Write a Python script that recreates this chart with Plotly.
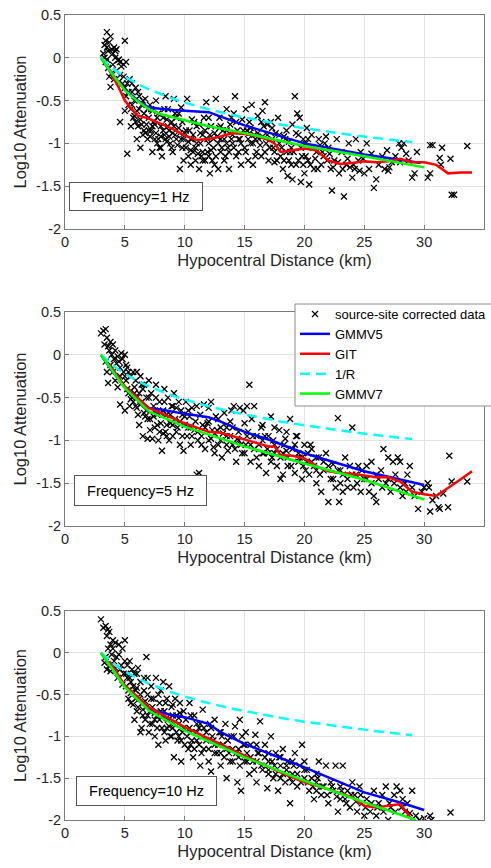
import plotly.graph_objects as go

# ---------------- data ----------------
dist_ticks = [0, 5, 10, 15, 20, 25, 30, 35]
att_ticks = [-2, -1.5, -1, -0.5, 0, 0.5]
att_ticktext = ["-2", "-1.5", "-1", "-0.5", "0", "0.5"]
freq_labels = ["Frequency=1 Hz", "Frequency=5 Hz", "Frequency=10 Hz"]

data_1hz = [
    (3.2,0.05),(3.3,0.15),(3.4,0.2),(3.5,0.12),(3.5,0.3),(3.6,0.08),(3.7,0.18),(3.8,0.25),(3.9,0.1),(4.0,0.05),
    (4.1,0.12),(4.2,0.0),(4.3,0.1),(4.4,-0.03),(4.5,-0.02),(4.6,-0.05),(4.7,-0.1),(4.9,-0.08),(5.0,0.2),(5.1,-0.05),
    (3.4,-0.05),(3.6,-0.12),(3.7,-0.22),(3.8,-0.34),(3.9,-0.18),(4.1,-0.25),(4.3,-0.15),(4.5,-0.28),(4.6,-0.2),(4.8,-0.3),
    (4.9,-0.22),(3.3,0.0),(3.5,-0.02),(4.0,-0.08),(4.2,0.08),
    (5.0,-0.35),(5.1,-0.45),(5.2,-0.3),(5.3,-0.55),(5.4,-0.25),(5.5,-0.6),(5.6,-0.4),(5.7,-0.7),(5.8,-0.5),(5.9,-0.35),
    (6.0,-0.62),(6.1,-0.8),(6.2,-0.45),(6.3,-0.72),(6.4,-0.55),(6.5,-0.9),(6.6,-0.65),(6.7,-0.48),(6.8,-0.78),(6.9,-0.6),
    (5.2,-1.12),(4.6,-0.75),(5.0,-0.62),(5.5,-0.8),(6.0,-0.95),(6.3,-1.05),(6.6,-0.85),(6.9,-0.95),(7.0,-0.7),(5.8,-0.68),
    (7.1,-0.55),(7.2,-0.85),(7.3,-1.1),(7.4,-0.75),(7.5,-0.95),(7.6,-0.5),(7.7,-1.0),(7.8,-0.65),(7.9,-1.05),(8.0,-0.8),
    (8.1,-1.15),(8.2,-0.7),(8.3,-0.9),(8.4,-0.45),(8.5,-0.98),(8.6,-0.6),(8.7,-0.85),(8.8,-1.0),(8.9,-0.75),(9.0,-1.1),
    (9.1,-0.48),(9.2,-0.9),(9.3,-0.7),(9.4,-1.02),(9.5,-0.82),(9.6,-1.3),(9.7,-0.95),(9.8,-0.75),(9.9,-1.2),(10.0,-0.88),
    (7.5,-0.78),(8.0,-0.92),(8.5,-0.72),(9.0,-0.88),(9.5,-0.65),(7.3,-0.62),(8.6,-0.8),(9.8,-1.05),
    (10.1,-1.05),(10.2,-0.48),(10.3,-1.15),(10.4,-0.85),(10.5,-1.25),(10.6,-0.95),(10.7,-1.1),(10.8,-0.75),(10.9,-1.2),(11.0,-1.0),
    (11.2,-1.3),(11.3,-0.88),(11.5,-1.1),(11.6,-0.7),(11.7,-1.2),(11.8,-0.52),(11.9,-0.95),(12.0,-1.15),(12.1,-1.35),(12.2,-0.8),
    (12.4,-1.05),(12.5,-1.25),(12.6,-0.48),(12.7,-0.92),(12.8,-1.3),(12.9,-0.7),(13.0,-1.1),(13.2,-0.85),(13.3,-1.2),(13.5,-0.6),
    (13.6,-1.05),(13.7,-1.3),(13.8,-0.78),(14.0,-1.0),(14.1,-0.65),(14.2,-0.45),(14.3,-1.15),(14.4,-0.85),(14.6,-0.95),(14.7,-1.25),
    (14.8,-0.72),(15.0,-1.05),(10.5,-0.95),(11.0,-0.8),(11.5,-0.9),(12.0,-1.0),(12.5,-0.88),(13.0,-0.95),(13.5,-1.0),(14.0,-0.9),
    (14.5,-1.1),(11.4,-1.15),(12.3,-1.2),(13.4,-1.15),
    (15.1,-0.6),(15.2,-0.85),(15.3,-1.2),(15.4,-0.75),(15.5,-1.0),(15.6,-0.55),(15.7,-1.25),(15.8,-0.9),(16.0,-1.1),(16.1,-0.68),
    (16.2,-0.95),(16.4,-1.15),(16.5,-0.62),(16.6,-0.8),(16.7,-0.52),(16.8,-1.0),(17.0,-1.2),(17.1,-1.43),(17.2,-0.75),(17.4,-1.05),
    (17.6,-0.88),(17.8,-0.7),(18.0,-1.15),(18.2,-1.3),(18.4,-0.95),(18.6,-1.38),(18.7,-1.2),(18.9,-1.05),(19.0,-1.42),(19.2,-0.45),
    (19.3,-1.25),(19.4,-0.65),(19.5,-0.9),(19.6,-0.7),(19.7,-1.45),(19.8,-1.15),(19.9,-0.95),(20.0,-1.35),(15.9,-0.95),(16.9,-0.9),
    (17.9,-1.0),(18.8,-1.1),(17.5,-1.22),(18.5,-0.85),
    (20.1,-1.0),(20.2,-0.82),(20.3,-1.2),(20.4,-1.48),(20.6,-0.9),(20.8,-1.3),(21.0,-1.1),(21.2,-0.95),(21.4,-1.25),(21.6,-1.15),
    (21.8,-0.92),(22.0,-1.05),(22.2,-1.3),(22.3,-1.55),(22.5,-1.2),(22.7,-0.95),(22.9,-1.35),(23.1,-1.1),(23.3,-1.62),(23.5,-1.25),
    (23.7,-1.0),(24.0,-1.4),(24.2,-1.3),(24.3,-0.95),(24.5,-1.2),(24.7,-1.1),(25.0,-1.35),(21.3,-1.02),(23.8,-1.28),(20.9,-1.18),
    (25.2,-1.0),(25.4,-1.3),(25.6,-1.12),(25.8,-1.52),(26.0,-1.42),(26.2,-1.25),(26.5,-1.15),(26.7,-1.3),(26.9,-1.08),(27.1,-1.28),
    (27.3,-1.22),(27.6,-1.15),(27.9,-1.0),(28.1,-1.05),(28.3,-1.0),(28.5,-1.12),(28.7,-1.2),(29.0,-1.4),(29.2,-1.35),(29.4,-1.1),
    (27.0,-1.32),(28.0,-1.22),
    (30.3,-1.4),(30.5,-1.02),(30.7,-1.02),(30.5,-1.35),(31.3,-1.17),(31.5,-1.05),(31.4,-1.25),(32.2,-1.18),(32.3,-1.6),(32.5,-1.6),
    (33.6,-1.03),
    (5.3,-0.4),(5.6,-0.55),(5.9,-0.75),(6.2,-0.6),(6.4,-0.78),(6.7,-0.88),(7.0,-0.85),(7.1,-0.92),(7.3,-0.8),(7.6,-0.88),
    (7.8,-0.95),(8.0,-1.05),(8.2,-0.85),(8.4,-0.95),(8.7,-0.92),(8.9,-1.05),(9.1,-0.8),(9.3,-0.95),(9.6,-0.88),(9.9,-0.95),
    (10.1,-0.85),(10.3,-0.98),(10.5,-1.08),(10.7,-0.9),(10.9,-1.05),(11.1,-1.12),(11.3,-1.0),(11.5,-1.2),(11.7,-0.85),(11.9,-1.1),
    (12.1,-0.9),(12.2,-1.08),(12.4,-0.95),(12.6,-1.15),(12.8,-1.0),(13.0,-0.8),(13.1,-1.05),(13.3,-0.95),(13.5,-0.85),(13.7,-1.1),
    (13.9,-0.95),(14.1,-1.05),(14.3,-0.75),(14.5,-0.95),(14.7,-1.0),(14.9,-0.85),(15.1,-1.1),(15.3,-0.95),(15.5,-0.82),(15.7,-1.0),
    (15.9,-1.15),(16.1,-0.88),(16.3,-1.02),(16.5,-0.92),(16.7,-1.1),(16.9,-0.78),(17.1,-1.05),(17.3,-0.95),(17.5,-1.1),(17.7,-1.2),
    (17.9,-0.9),(18.1,-1.05),(18.3,-1.2),(18.5,-1.1),(18.7,-0.98),(18.9,-1.25),(19.1,-1.1),(19.3,-0.88),(19.5,-1.2),(19.7,-1.05),
    (19.9,-1.25),(20.1,-1.15),(20.5,-1.25),(20.7,-1.05),(21.1,-1.3),(21.5,-1.1),(21.9,-1.2),(22.1,-1.12),(22.4,-1.28),(22.8,-1.22),
    (23.2,-1.3),(23.6,-1.18),(24.1,-1.25),(24.6,-1.32),(24.9,-1.18),(5.6,-0.3),(6.1,-0.4),(6.5,-0.5),(7.2,-0.6),(7.7,-0.7),
    (8.3,-0.6),(9.2,-0.65),(9.7,-0.58),(10.6,-0.72),(11.2,-0.78),(12.0,-0.7),(12.9,-0.82),(13.9,-0.7),(15.4,-0.88),(16.4,-0.75),
    (17.3,-0.82),(18.3,-0.92),(19.0,-0.78),(20.3,-0.95),(21.7,-1.0),
]

data_5hz = [
    (3.0,0.25),(3.2,0.28),(3.4,0.3),(3.5,0.2),(3.3,0.12),(3.6,0.1),(3.7,0.05),(3.8,0.15),(3.9,0.0),(4.0,0.12),
    (4.1,-0.05),(4.2,0.05),(4.3,-0.1),(4.4,-0.02),(4.5,-0.08),(4.6,-0.15),(4.7,0.02),(4.8,-0.05),(4.9,-0.2),(5.0,0.0),
    (5.1,-0.12),(3.5,-0.2),(3.6,-0.33),(3.8,-0.12),(4.2,-0.3),(4.4,-0.38),(3.4,-0.08),(4.0,-0.2),(4.6,-0.25),(5.0,-0.25),
    (5.1,-0.3),(5.2,-0.15),(5.3,-0.45),(5.4,-0.6),(5.5,-0.25),(5.6,-0.5),(5.7,-0.2),(5.8,-0.38),(5.9,-0.6),(6.0,-0.2),
    (6.1,-0.7),(6.2,-0.45),(6.3,-0.25),(6.4,-0.55),(6.5,-0.95),(6.6,-0.35),(6.7,-0.72),(6.8,-0.5),(6.9,-0.98),(7.0,-0.3),
    (4.6,-0.58),(5.0,-0.65),(5.7,-0.55),(6.2,-0.82),(6.5,-0.4),(6.8,-0.65),(5.5,-0.42),(6.0,-0.5),
    (7.1,-0.75),(7.2,-0.45),(7.3,-0.98),(7.4,-0.6),(7.5,-0.85),(7.6,-0.35),(7.7,-0.7),(7.8,-1.0),(7.9,-0.55),(8.0,-0.8),
    (8.1,-1.12),(8.2,-0.65),(8.3,-0.4),(8.4,-0.9),(8.5,-0.7),(8.6,-0.5),(8.7,-1.0),(8.8,-0.8),(8.9,-0.6),(9.0,-0.95),
    (9.1,-0.45),(9.2,-0.75),(9.4,-0.85),(9.5,-0.55),(9.6,-1.05),(9.8,-0.7),(9.9,-1.12),(10.0,-0.82),(7.5,-0.65),(8.5,-0.82),
    (9.3,-0.62),(7.9,-0.9),
    (10.1,-0.55),(10.2,-0.95),(10.4,-0.72),(10.5,-1.05),(10.6,-0.62),(10.8,-0.88),(11.0,-1.4),(11.1,-1.0),(11.2,-1.38),(11.3,-0.7),
    (11.4,-0.95),(11.6,-0.58),(11.7,-1.1),(11.9,-0.8),(12.0,-1.0),(12.2,-0.55),(12.3,-0.88),(12.5,-1.15),(12.6,-0.72),(12.8,-1.05),
    (13.0,-0.85),(13.1,-1.2),(13.3,-0.68),(13.5,-0.95),(13.6,-1.12),(13.8,-0.78),(14.0,-1.05),(14.1,-0.6),(14.3,-1.25),(14.5,-0.9),
    (14.6,-0.62),(14.8,-1.15),(15.0,-0.8),(10.5,-0.85),(11.5,-0.82),(12.5,-0.92),(13.5,-0.85),(14.5,-1.0),(15.2,-0.6),(15.4,-0.35),
    (15.1,-1.05),(15.3,-0.9),(15.5,-1.25),(15.6,-0.75),(15.8,-1.1),(16.0,-0.95),(16.2,-1.3),(16.4,-0.85),(16.6,-1.15),(16.8,-1.38),
    (17.0,-0.95),(17.2,-0.72),(17.3,-1.2),(17.5,-1.05),(17.7,-1.3),(17.9,-0.88),(18.0,-1.45),(18.2,-1.15),(18.4,-0.98),(18.6,-1.3),
    (18.8,-0.75),(19.0,-1.1),(19.2,-1.38),(19.4,-0.95),(19.6,-1.2),(19.8,-1.45),(20.0,-1.05),(16.5,-1.0),(17.5,-1.15),(18.5,-1.12),
    (19.5,-1.25),(16.9,-1.1),(18.2,-1.4),(19.9,-1.3),
    (20.2,-1.25),(20.4,-1.4),(20.6,-1.1),(20.8,-1.3),(21.0,-1.5),(21.2,-1.2),(21.4,-1.6),(21.6,-1.35),(21.8,-1.15),(22.0,-1.72),
    (22.2,-1.45),(22.4,-1.28),(22.6,-1.55),(22.8,-0.74),(22.9,-1.72),(23.0,-1.35),(23.2,-1.6),(23.4,-1.2),(23.6,-1.45),(23.8,-1.3),
    (24.0,-0.85),(24.1,-1.55),(24.3,-1.4),(24.5,-1.3),(24.7,-1.6),(25.0,-1.45),(21.0,-1.35),(23.0,-1.5),
    (25.2,-1.3),(25.4,-1.6),(25.6,-1.25),(25.8,-1.65),(26.0,-1.72),(26.2,-1.45),(26.4,-1.35),(26.6,-1.1),(26.8,-1.5),(27.0,-1.2),
    (27.2,-1.6),(27.4,-1.25),(27.6,-1.4),(27.8,-1.2),(28.0,-1.25),(28.2,-1.65),(28.4,-1.5),(28.6,-1.4),(28.8,-1.3),(29.0,-1.55),
    (29.2,-1.65),(29.5,-1.8),(29.8,-1.6),(30.0,-1.55),
    (30.3,-1.5),(30.5,-1.83),(30.7,-1.7),(31.0,-1.65),(31.2,-1.78),(31.3,-1.8),(31.6,-1.62),(32.0,-1.78),(32.1,-1.18),(32.3,-1.48),
    (33.6,-1.48),(30.4,-1.55),
    (5.2,-0.4),(5.5,-0.52),(5.8,-0.45),(6.0,-0.62),(6.3,-0.58),(6.6,-0.68),(6.9,-0.75),(7.1,-0.88),(7.4,-0.72),(7.7,-0.82),
    (8.0,-0.68),(8.2,-0.92),(8.5,-0.95),(8.8,-0.7),(9.0,-0.82),(9.3,-0.9),(9.6,-0.78),(9.8,-0.95),(10.0,-0.72),(10.3,-0.85),
    (10.6,-0.95),(10.9,-0.78),(11.1,-0.9),(11.4,-1.05),(11.7,-0.85),(12.0,-0.78),(12.2,-0.98),(12.4,-1.08),(12.7,-0.88),(13.0,-1.0),
    (13.2,-0.92),(13.5,-1.05),(13.8,-0.95),(14.0,-0.85),(14.2,-1.1),(14.4,-0.98),(14.7,-1.05),(15.0,-1.15),(15.2,-0.95),(15.5,-1.05),
    (15.7,-0.95),(16.0,-1.2),(16.2,-1.05),(16.5,-1.15),(16.7,-0.95),(17.0,-1.15),(17.2,-1.25),(17.4,-1.0),(17.7,-1.1),(18.0,-1.2),
    (18.3,-1.05),(18.6,-1.2),(18.9,-1.3),(19.2,-1.05),(19.5,-1.15),(19.8,-1.2),(20.1,-1.35),(20.3,-1.15),(20.6,-1.25),(21.0,-1.2),
    (21.3,-1.4),(21.6,-1.25),(22.0,-1.3),(22.4,-1.45),(22.8,-1.35),(23.2,-1.4),(23.6,-1.55),(24.0,-1.4),(24.4,-1.5),(24.8,-1.35),
    (25.2,-1.45),(25.6,-1.5),(26.0,-1.4),(26.5,-1.55),(27.0,-1.45),(27.5,-1.5),(28.0,-1.55),(28.5,-1.6),(5.3,-0.2),(5.9,-0.3),
    (6.4,-0.35),(7.0,-0.5),(7.6,-0.5),(8.3,-0.55),(9.0,-0.6),(9.7,-0.65),(10.3,-0.65),(11.0,-0.6),(12.0,-0.62),(12.8,-0.75),
    (13.9,-0.65),(14.9,-0.65),(15.8,-0.6),(16.5,-0.82),(17.5,-0.85),(18.5,-0.9),(19.3,-0.95),(20.5,-1.05),
]

data_10hz = [
    (3.0,0.4),(3.2,0.3),(3.4,0.32),(3.6,0.28),(3.5,0.2),(3.7,0.25),(3.8,0.1),(4.0,0.15),(4.2,0.12),(3.6,0.05),
    (3.9,-0.02),(4.3,-0.05),(4.5,-0.02),(4.8,0.05),(5.0,0.15),(4.7,-0.15),(3.3,-0.12),(3.5,-0.2),(3.8,-0.22),(4.1,-0.1),
    (4.4,-0.3),(4.6,-0.2),(4.9,-0.25),(5.0,-0.1),(4.2,-0.18),(3.4,-0.05),(4.0,0.05),(3.7,-0.15),(4.5,0.1),(4.8,-0.38),
    (5.1,-0.4),(5.2,-0.15),(5.3,-0.55),(5.4,-0.3),(5.5,-0.48),(5.6,-0.2),(5.7,-0.62),(5.8,-0.25),(5.9,-0.45),(6.0,-0.7),
    (6.1,-0.18),(6.2,-0.55),(6.3,-0.35),(6.4,-0.9),(6.5,-0.6),(6.6,-0.3),(6.7,-0.8),(6.8,-0.05),(6.9,-0.5),(7.0,-0.95),
    (5.5,-0.35),(6.0,-0.42),(6.5,-0.75),(5.8,-0.8),(6.3,-0.95),(6.8,-0.65),(5.2,-0.3),(6.9,-0.3),
    (7.1,-0.7),(7.2,-0.4),(7.3,-0.85),(7.4,-0.55),(7.5,-1.0),(7.6,-0.3),(7.7,-0.75),(7.8,-1.1),(7.9,-0.6),(8.0,-0.45),
    (8.1,-0.9),(8.2,-0.35),(8.3,-0.7),(8.4,-1.05),(8.5,-0.55),(8.6,-0.8),(8.7,-0.4),(8.8,-1.0),(8.9,-0.65),(9.0,-0.9),
    (9.1,-1.25),(9.2,-0.55),(9.3,-0.75),(9.4,-1.05),(9.5,-0.85),(9.6,-0.6),(9.7,-1.3),(9.8,-0.95),(9.9,-0.7),(10.0,-1.1),
    (7.5,-0.8),(8.5,-0.9),(9.5,-1.0),(8.0,-0.7),(9.0,-0.75),
    (10.1,-0.8),(10.3,-1.15),(10.4,-0.6),(10.5,-0.95),(10.7,-1.25),(10.8,-0.75),(11.0,-1.05),(11.2,-0.9),(11.3,-1.35),(11.5,-0.68),
    (11.6,-1.15),(11.8,-0.95),(12.0,-1.3),(12.1,-0.85),(12.2,-1.42),(12.4,-1.05),(12.5,-0.8),(12.7,-1.2),(12.9,-0.95),(13.0,-1.35),
    (13.2,-1.1),(13.4,-0.85),(13.5,-1.5),(13.7,-1.2),(13.9,-1.0),(14.0,-1.3),(14.2,-0.88),(14.4,-1.55),(14.5,-1.15),(14.6,-0.8),
    (14.7,-1.65),(14.8,-1.0),(15.0,-1.3),(10.5,-1.1),(11.5,-1.0),(12.5,-1.1),(13.5,-1.15),(14.5,-1.25),(11.0,-0.85),(13.0,-0.95),
    (15.1,-0.95),(15.2,-1.2),(15.4,-1.45),(15.5,-1.1),(15.7,-1.3),(15.9,-0.98),(16.0,-1.55),(16.2,-1.2),(16.3,-0.82),(16.5,-1.4),
    (16.7,-1.1),(16.9,-1.62),(17.0,-1.3),(17.2,-1.0),(17.4,-1.5),(17.6,-1.2),(17.8,-1.65),(18.0,-1.35),(18.2,-1.15),(18.4,-1.55),
    (18.6,-1.3),(18.8,-1.8),(19.0,-1.45),(19.2,-1.2),(19.4,-1.6),(19.6,-1.35),(19.8,-1.1),(20.0,-1.5),(16.0,-1.3),(17.0,-1.45),
    (18.0,-1.5),(19.0,-1.55),(17.5,-1.35),(18.5,-1.4),
    (20.2,-1.4),(20.4,-1.65),(20.6,-1.5),(20.8,-1.75),(21.0,-1.55),(21.2,-1.3),(21.4,-1.7),(21.6,-1.6),(21.8,-1.35),(22.0,-1.8),
    (22.2,-1.55),(22.4,-1.65),(22.6,-1.35),(22.8,-1.9),(23.0,-1.6),(23.2,-1.35),(23.4,-1.75),(23.6,-1.65),(23.8,-1.85),(24.0,-1.55),
    (24.2,-1.7),(24.4,-1.9),(24.6,-1.6),(24.8,-1.8),(25.0,-1.95),(21.0,-1.65),(23.0,-1.75),
    (25.2,-1.75),(25.5,-1.9),(25.8,-1.65),(26.0,-1.95),(26.2,-1.8),(26.5,-1.7),(26.8,-1.6),(27.0,-2.0),(27.2,-1.85),(27.5,-1.7),
    (27.7,-1.6),(28.0,-1.65),(28.2,-1.75),(28.4,-1.9),(28.6,-1.8),(28.8,-1.92),(29.0,-1.65),(29.3,-1.95),(29.6,-2.0),(30.0,-1.98),
    (30.5,-1.95),(30.6,-2.0),(32.2,-1.91),
    (5.1,-0.25),(5.3,-0.45),(5.5,-0.6),(5.7,-0.4),(5.9,-0.55),(6.1,-0.65),(6.3,-0.5),(6.5,-0.68),(6.7,-0.58),(6.9,-0.75),
    (7.1,-0.85),(7.3,-0.65),(7.5,-0.72),(7.7,-0.9),(7.9,-0.8),(8.1,-0.75),(8.3,-0.95),(8.5,-0.78),(8.7,-0.88),(8.9,-1.0),
    (9.1,-0.85),(9.3,-0.95),(9.5,-0.78),(9.7,-1.05),(9.9,-0.9),(10.2,-1.0),(10.4,-0.9),(10.6,-1.05),(10.8,-1.15),(11.0,-0.95),
    (11.2,-1.1),(11.4,-1.2),(11.6,-0.9),(11.8,-1.05),(12.0,-1.15),(12.3,-1.0),(12.5,-1.2),(12.8,-1.1),(13.0,-1.2),(13.3,-1.25),
    (13.6,-1.05),(13.8,-1.3),(14.0,-1.15),(14.3,-1.2),(14.6,-1.35),(14.9,-1.1),(15.2,-1.3),(15.5,-1.25),(15.8,-1.4),(16.1,-1.2),
    (16.4,-1.35),(16.7,-1.25),(17.0,-1.4),(17.3,-1.3),(17.6,-1.45),(17.9,-1.25),(18.2,-1.45),(18.5,-1.35),(18.8,-1.5),(19.1,-1.35),
    (19.4,-1.45),(19.7,-1.55),(20.0,-1.4),(20.3,-1.55),(20.7,-1.6),(21.1,-1.5),(21.5,-1.6),(21.9,-1.7),(22.3,-1.6),(22.7,-1.72),
    (23.1,-1.65),(23.5,-1.8),(23.9,-1.7),(24.3,-1.78),(24.7,-1.7),(25.1,-1.85),(25.6,-1.8),(26.1,-1.85),(26.6,-1.9),(27.1,-1.8),
    (27.6,-1.9),(28.1,-1.85),(5.4,-0.1),(6.0,-0.25),(6.6,-0.45),(7.2,-0.55),(7.8,-0.5),(8.4,-0.6),(9.0,-0.62),(9.6,-0.72),
    (10.5,-0.75),(11.3,-0.85),(12.2,-0.9),(13.1,-1.0),(14.1,-1.0),(15.0,-1.1),(16.0,-1.1),(17.0,-1.2),(18.0,-1.25),(19.0,-1.3),
    (20.0,-1.3),(21.0,-1.45),
]

# model curves
gmmv5_x_1 = [3, 4, 5, 6, 7, 9, 12, 15, 20, 25, 28, 29.7]
gmmv5_y_1 = [0, -0.2, -0.37, -0.49, -0.58, -0.61, -0.635, -0.79, -1.0, -1.13, -1.19, -1.23]
git_x_1 = [3.6, 4.5, 5, 6, 7, 8, 9, 10, 11, 12, 13, 14, 15, 16, 17, 17.5, 18, 19, 20, 21, 22, 23, 24, 25, 26, 27, 28, 29, 30, 31, 32, 33, 34]
git_y_1 = [-0.12, -0.35, -0.5, -0.67, -0.71, -0.77, -0.83, -0.91, -0.96, -0.95, -0.92, -0.88, -0.89, -0.91, -0.96, -1.0, -1.1, -1.08, -1.06, -1.08, -1.2, -1.24, -1.23, -1.21, -1.22, -1.21, -1.18, -1.22, -1.22, -1.25, -1.35, -1.34, -1.34]
gmmv7_x_1 = [3, 4, 5, 6, 7, 8, 10, 12, 15, 20, 25, 30]
gmmv7_y_1 = [0, -0.2, -0.38, -0.5, -0.6, -0.66, -0.73, -0.8, -0.88, -1.03, -1.15, -1.28]

gmmv5_x_5 = [3, 4, 5, 6, 7, 8, 10, 12, 13, 15, 17, 20, 25, 30]
gmmv5_y_5 = [0, -0.2, -0.38, -0.51, -0.62, -0.64, -0.69, -0.73, -0.78, -0.9, -0.99, -1.15, -1.36, -1.52]
git_x_5 = [3.7, 5, 7, 8, 10, 12, 13, 14, 15, 16, 17, 17.5, 18, 19, 20, 21, 22, 23, 24, 25, 26, 27, 28, 29, 30, 31, 32, 33, 34]
git_y_5 = [-0.11, -0.37, -0.62, -0.68, -0.8, -0.9, -0.91, -0.95, -0.99, -1.03, -1.07, -1.07, -1.17, -1.18, -1.21, -1.3, -1.36, -1.38, -1.39, -1.41, -1.43, -1.43, -1.48, -1.6, -1.63, -1.65, -1.56, -1.46, -1.36]
gmmv7_x_5 = [3, 5, 7, 10, 15, 20, 25, 30]
gmmv7_y_5 = [0, -0.39, -0.66, -0.84, -1.07, -1.27, -1.46, -1.69]

gmmv5_x_10 = [3, 5, 7, 8, 9, 10, 12, 13, 15, 20, 25, 28, 30]
gmmv5_y_10 = [0, -0.4, -0.67, -0.71, -0.75, -0.77, -0.85, -0.95, -1.09, -1.37, -1.67, -1.79, -1.88]
git_x_10 = [3.7, 5, 7, 10, 15, 18, 20, 22, 24, 25, 26, 27, 28, 28.5, 29]
git_y_10 = [-0.1, -0.39, -0.65, -0.89, -1.23, -1.43, -1.55, -1.63, -1.73, -1.83, -1.85, -1.83, -1.81, -1.9, -2.0]
gmmv7_x_10 = [3, 5, 7, 10, 15, 20, 25, 29.3]
gmmv7_y_10 = [0, -0.41, -0.69, -0.93, -1.25, -1.53, -1.79, -2.0]

inv_r_x = [3, 4, 5, 6, 7, 8, 9, 10, 12, 14, 16, 18, 20, 22, 24, 26, 28, 29]
inv_r_y = [0, -0.125, -0.222, -0.301, -0.368, -0.426, -0.477, -0.523, -0.602, -0.669, -0.727, -0.778, -0.824, -0.865, -0.903, -0.938, -0.970, -0.985]

# ---------------- figure ----------------
W, H = 491, 868
FONT = "Liberation Sans, Arial, Helvetica, sans-serif"
TXT = "#262626"

panels = [
    dict(pts=data_1hz, g5=(gmmv5_x_1, gmmv5_y_1), git=(git_x_1, git_y_1), g7=(gmmv7_x_1, gmmv7_y_1), top=15, bot=229, box=(69, 182, 203, 211)),
    dict(pts=data_5hz, g5=(gmmv5_x_5, gmmv5_y_5), git=(git_x_5, git_y_5), g7=(gmmv7_x_5, gmmv7_y_5), top=312, bot=526, box=(74, 475, 207, 506)),
    dict(pts=data_10hz, g5=(gmmv5_x_10, gmmv5_y_10), git=(git_x_10, git_y_10), g7=(gmmv7_x_10, gmmv7_y_10), top=611, bot=820, box=(76, 776, 217, 806)),
]

fig = go.Figure()
layout = dict(
    width=W, height=H, margin=dict(l=0, r=0, t=0, b=0, autoexpand=False),
    paper_bgcolor="white", plot_bgcolor="white",
    font=dict(family=FONT, color=TXT, size=14),
    showlegend=True,
    legend=dict(x=295 / W, y=1 - 299 / H, xanchor="left", yanchor="top",
                bgcolor="rgba(0,0,0,0)", borderwidth=0,
                font=dict(size=13, color="black", family=FONT), tracegroupgap=0,
                itemwidth=30),
    annotations=[],
    # legend frame (runs past the right edge, as in the original figure)
    shapes=[dict(type="rect", xref="paper", yref="paper", x0=295 / W, x1=1.02,
                 y0=1 - 406 / H, y1=1 - 304 / H, fillcolor="white",
                 line=dict(color="#8c8c8c", width=1), layer="above")],
)

for i, p in enumerate(panels):
    k = "" if i == 0 else str(i + 1)
    xa, ya = "x" + k, "y" + k
    show = (i == 1)
    xs = [a for a, b in p["pts"]]
    ys = [b for a, b in p["pts"]]
    fig.add_trace(go.Scatter(x=xs, y=ys, mode="markers", name="source-site corrected data",
                             marker=dict(symbol="x-thin", size=6, line=dict(width=1.3, color="black"), color="black"),
                             xaxis=xa, yaxis=ya, showlegend=show))
    fig.add_trace(go.Scatter(x=p["g5"][0], y=p["g5"][1], mode="lines", name="GMMV5",
                             line=dict(color="#0000ff", width=2.5), xaxis=xa, yaxis=ya, showlegend=show))
    fig.add_trace(go.Scatter(x=p["git"][0], y=p["git"][1], mode="lines", name="GIT",
                             line=dict(color="#ff0000", width=2.5), xaxis=xa, yaxis=ya, showlegend=show))
    fig.add_trace(go.Scatter(x=inv_r_x, y=inv_r_y, mode="lines", name="1/R",
                             line=dict(color="#00ffff", width=2.5, dash="10px,6px"), xaxis=xa, yaxis=ya, showlegend=show))
    fig.add_trace(go.Scatter(x=p["g7"][0], y=p["g7"][1], mode="lines", name="GMMV7",
                             line=dict(color="#00ff00", width=2.5), xaxis=xa, yaxis=ya, showlegend=show))

    common = dict(showline=True, mirror=True, linecolor="#7a7a7a", linewidth=1,
                  showgrid=True, gridcolor="#e3e3e3", gridwidth=1, zeroline=False,
                  ticks="inside", ticklen=4, tickcolor="#7a7a7a",
                  tickfont=dict(size=14.5, color=TXT, family=FONT))
    layout["xaxis" + k] = dict(common, domain=[65 / W, 484 / W], range=[0, 35], anchor=ya,
                               tickvals=dist_ticks, ticktext=[str(t) for t in dist_ticks],
                               title=dict(text="Hypocentral Distance (km)", font=dict(size=16.5, color=TXT), standoff=5))
    layout["yaxis" + k] = dict(common, domain=[1 - p["bot"] / H, 1 - p["top"] / H], range=[-2, 0.5], anchor=xa,
                               tickvals=att_ticks, ticktext=att_ticktext,
                               title=dict(text="Log10 Attenuation", font=dict(size=16.5, color=TXT), standoff=5))
    x0, y0, x1, y1 = p["box"]
    layout["annotations"].append(dict(
        text=freq_labels[i], xref="paper", yref="paper", x=x0 / W, y=1 - y0 / H,
        xanchor="left", yanchor="top", showarrow=False, width=x1 - x0 - 4, height=y1 - y0 - 4,
        align="center", valign="middle", bordercolor="#555555", borderwidth=1, borderpad=1,
        bgcolor="white", font=dict(size=14.5, color="black", family=FONT)))

fig.update_layout(**layout)
fig.write_html("out.html")
